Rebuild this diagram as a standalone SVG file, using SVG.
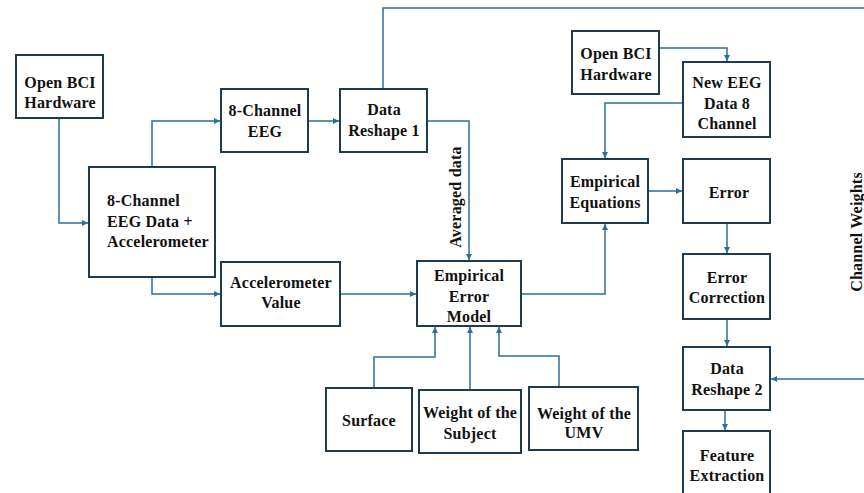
<svg xmlns="http://www.w3.org/2000/svg" width="864" height="493" viewBox="0 0 864 493">
<defs>
<marker id="arr" markerUnits="userSpaceOnUse" markerWidth="8" markerHeight="8" refX="6" refY="3" orient="auto">
<path d="M0,0 L6,3 L0,6 Z" fill="#2a6f96"/>
</marker>
<style>
.box{fill:#fff;stroke:#1f3b4f;stroke-width:2}
.t{font-family:"Liberation Serif","Times New Roman",serif;font-weight:bold;font-size:16px;letter-spacing:0.2px;fill:#111;text-anchor:middle}
.l{text-anchor:start}
.c{fill:none;stroke:#2a6f96;stroke-width:1.5}
.a{marker-end:url(#arr)}
</style>
</defs>
<rect width="864" height="493" fill="#fff"/>
<g id="connectors">
<path class="c a" d="M59,118 V223 H88"/>
<path class="c a" d="M152,167 V121 H220"/>
<path class="c a" d="M152,277 V294 H220"/>
<path class="c a" d="M308,121 H339"/>
<path class="c" d="M383,89 V8 H864"/>
<path class="c a" d="M427,121 H469 V260"/>
<path class="c a" d="M340,294 H416"/>
<path class="c a" d="M521,294 H605 V224"/>
<path class="c a" d="M374,388 V357 H435 V327"/>
<path class="c a" d="M470,390 V327"/>
<path class="c a" d="M559,387 V356 H499 V327"/>
<path class="c a" d="M659,48 H727 V61"/>
<path class="c a" d="M683,103 H605 V158"/>
<path class="c a" d="M648,191 H682"/>
<path class="c a" d="M727,223 V253"/>
<path class="c a" d="M727,319 V346"/>
<path class="c a" d="M864,379 H771"/>
<path class="c a" d="M725,410 V430"/>
<text class="t" transform="translate(461,197) rotate(-90)">Averaged data</text>
<text class="t" transform="translate(862,232) rotate(-90)">Channel Weights</text>
</g>
<g id="openbci1"><rect class="box" x="16" y="55" width="87" height="63"/><text class="t" x="60" y="88">Open BCI</text><text class="t" x="60" y="108">Hardware</text></g>
<g id="eegacc"><rect class="box" x="89" y="167" width="126" height="110"/><text class="t l" x="107" y="206">8-Channel</text><text class="t l" x="107" y="227">EEG Data +</text><text class="t l" x="107" y="247">Accelerometer</text></g>
<g id="eeg8"><rect class="box" x="221" y="89" width="87" height="63"/><text class="t" x="265" y="116">8-Channel</text><text class="t" x="265" y="137">EEG</text></g>
<g id="reshape1"><rect class="box" x="340" y="89" width="87" height="63"/><text class="t" x="384" y="115">Data</text><text class="t" x="384" y="136">Reshape 1</text></g>
<g id="accval"><rect class="box" x="221" y="262" width="119" height="64"/><text class="t" x="281" y="288">Accelerometer</text><text class="t" x="281" y="308">Value</text></g>
<g id="eem"><rect class="box" x="417" y="261" width="104" height="65"/><text class="t" x="469" y="281">Empirical</text><text class="t" x="469" y="302">Error</text><text class="t" x="469" y="322">Model</text></g>
<g id="surface"><rect class="box" x="326" y="388" width="86" height="63"/><text class="t" x="369" y="426">Surface</text></g>
<g id="wsubject"><rect class="box" x="419" y="390" width="102" height="63"/><text class="t" x="470" y="418">Weight of the</text><text class="t" x="470" y="439">Subject</text></g>
<g id="wumv"><rect class="box" x="529" y="387" width="109" height="63"/><text class="t" x="584" y="419">Weight of the</text><text class="t" x="584" y="438">UMV</text></g>
<g id="openbci2"><rect class="box" x="572" y="31" width="87" height="63"/><text class="t" x="616" y="59">Open BCI</text><text class="t" x="616" y="80">Hardware</text></g>
<g id="neweeg"><rect class="box" x="683" y="62" width="87" height="75"/><text class="t" x="727" y="88">New EEG</text><text class="t" x="727" y="109">Data 8</text><text class="t" x="727" y="129">Channel</text></g>
<g id="empeq"><rect class="box" x="562" y="159" width="86" height="64"/><text class="t" x="605" y="187">Empirical</text><text class="t" x="605" y="208">Equations</text></g>
<g id="error"><rect class="box" x="683" y="159" width="87" height="64"/><text class="t" x="729" y="198">Error</text></g>
<g id="errcorr"><rect class="box" x="683" y="254" width="87" height="65"/><text class="t" x="727" y="283">Error</text><text class="t" x="727" y="303">Correction</text></g>
<g id="reshape2"><rect class="box" x="683" y="347" width="87" height="63"/><text class="t" x="727" y="374">Data</text><text class="t" x="727" y="395">Reshape 2</text></g>
<g id="feature"><rect class="box" x="683" y="431" width="87" height="70"/><text class="t" x="727" y="461">Feature</text><text class="t" x="727" y="481">Extraction</text></g>
</svg>
